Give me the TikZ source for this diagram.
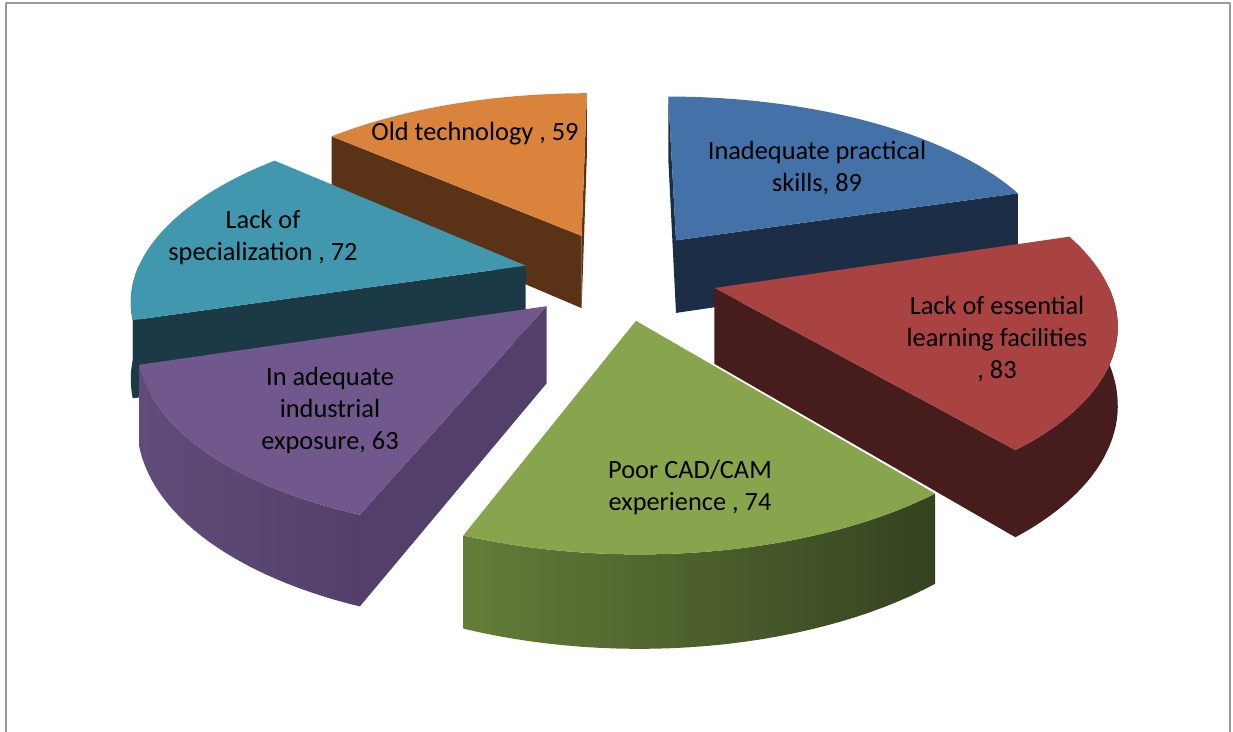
\documentclass[tikz,border=0pt]{standalone}
\usepackage{fontspec}
\setmainfont{Carlito}
\definecolor{bluetop}{RGB}{68,114,168}
\definecolor{blueside}{RGB}{28,45,70}
\definecolor{redtop}{RGB}{168,67,66}
\definecolor{redside}{RGB}{70,28,28}
\definecolor{greentop}{RGB}{136,165,78}
\definecolor{greenleft}{RGB}{100,125,55}
\definecolor{greenright}{RGB}{52,66,32}
\definecolor{purpletop}{RGB}{112,88,140}
\definecolor{purpleside}{RGB}{83,64,106}
\definecolor{purpleleft}{RGB}{96,76,122}
\definecolor{tealtop}{RGB}{65,151,174}
\definecolor{tealside}{RGB}{28,58,70}
\definecolor{orangetop}{RGB}{218,131,60}
\definecolor{orangeside}{RGB}{90,50,22}
\tikzset{declare function={
  pY(\a,\r,\m)=0.25*sin(\m)+\r*sin(\a);
  px(\a,\r,\m)=620+390*(0.25*cos(\m)+\r*cos(\a))/(1+0.165*pY(\a,\r,\m));
  py(\a,\r,\m,\z)=275+(75*\z-178*pY(\a,\r,\m))/(1+0.165*pY(\a,\r,\m));
}}
% top face: start angle, end angle, mid angle, colour
\newcommand{\slicetop}[4]{\fill[#4] ({px(0,0,#3)},{py(0,0,#3,0)}) -- plot[domain=#1:#2,samples=40,variable=\t] ({px(\t,1,#3)},{py(\t,1,#3,0)}) -- cycle;}
% outer side: from, to, mid angle, left colour, right colour
\newcommand{\sliceside}[5]{\shade[left color=#4,right color=#5] plot[domain=#1:#2,samples=30,variable=\t] ({px(\t,1,#3)},{py(\t,1,#3,0)}) -- plot[domain=#2:#1,samples=30,variable=\t] ({px(\t,1,#3)},{py(\t,1,#3,1)}) -- cycle;}
% cut face: angle, mid angle, colour
\newcommand{\slicecut}[3]{\fill[#3] ({px(#1,0,#2)},{py(#1,0,#2,0)}) -- ({px(#1,1,#2)},{py(#1,1,#2,0)}) -- ({px(#1,1,#2)},{py(#1,1,#2,1)}) -- ({px(#1,0,#2)},{py(#1,0,#2,1)}) -- cycle;}
\begin{document}
\begin{tikzpicture}[x=0.02cm,y=-0.02cm,line join=round,
  lbl/.style={align=center,font=\fontsize{15}{18.2}\selectfont,text=black}]
\useasboundingbox (0,0) rectangle (1233,732);
%Frame
\draw[gray!80,line width=1pt] (6,732)--(6,3)--(1230,3)--(1230,732);
%Old technology
\slicecut{138.273}{114.136}{orangeside}
\slicecut{90}{114.136}{orangeside}
\slicetop{90}{138.273}{114.136}{orangetop}
%Inadequate practical skills
\slicecut{90}{53.591}{blueside}
\slicecut{17.182}{53.591}{blueside}
\slicetop{17.182}{90}{53.591}{bluetop}
%Lack of specialization
\slicecut{197.273}{167.727}{tealside}
\sliceside{180}{197.273}{167.727}{tealside}{tealside}
\slicetop{138.273}{197.273}{167.727}{tealtop}
%Lack of essential learning facilities
\slicecut{-50.727}{-16.773}{redside}
\sliceside{-50.727}{0}{-16.773}{redside}{redside}
\slicetop{-50.727}{17.182}{-16.773}{redtop}
%In adequate industrial exposure
\slicecut{-111.273}{-137.045}{purpleside}
\sliceside{-162.818}{-111.273}{-137.045}{purpleleft}{purpleside}
\slicetop{-162.818}{-111.273}{-137.045}{purpletop}
%Poor CAD/CAM experience
\sliceside{-111.273}{-50.727}{-81}{greenleft}{greenright}
\slicetop{-111.273}{-50.727}{-81}{greentop}
%Labels
\node[lbl] (lblskills) at (817,168) {Inadequate practical\\skills, 89};
\node[lbl] (lblfacilities) at (997,339) {Lack of essential\\learning facilities\\, 83};
\node[lbl] (lblcadcam) at (690,487) {Poor CAD/CAM\\experience , 74};
\node[lbl] (lblexposure) at (330,410) {In adequate\\industrial\\exposure, 63};
\node[lbl] (lblspecial) at (263,237) {Lack of\\specialization , 72};
\node[lbl] (lbloldtech) at (475,134) {Old technology , 59};
\end{tikzpicture}
\end{document}
